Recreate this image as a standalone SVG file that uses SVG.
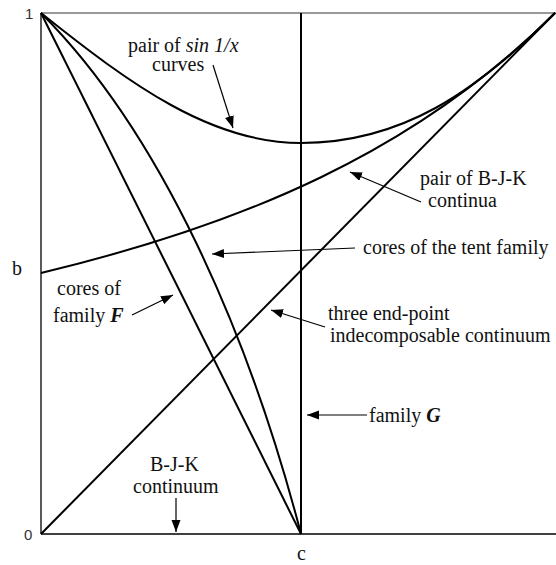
<svg xmlns="http://www.w3.org/2000/svg" width="556" height="565" viewBox="0 0 556 565">
<style>
.lbl{font-family:"Liberation Serif","Times New Roman",serif;font-size:20px;fill:#111}
.ax{font-family:"Liberation Sans",Arial,sans-serif;font-size:15px;fill:#333}
.crv{fill:none;stroke:#000;stroke-width:2}
.ar{fill:none;stroke:#000;stroke-width:1.2;marker-end:url(#ah)}
</style>
<defs>
<marker id="ah" markerUnits="userSpaceOnUse" markerWidth="13" markerHeight="10" refX="12" refY="4.5" orient="auto">
<path d="M0,0 L12,4.5 L0,9 z" fill="#000"/>
</marker>
</defs>
<rect width="556" height="565" fill="#fff"/>
<g id="frame">
<line x1="41" y1="13" x2="556" y2="13" stroke="#777" stroke-width="1.5"/>
<line x1="41" y1="13" x2="41" y2="534" stroke="#000" stroke-width="1.3"/>
<line x1="41" y1="534" x2="556" y2="534" stroke="#000" stroke-width="1.3"/>
<text class="ax" x="25" y="19">1</text>
<text class="ax" x="24" y="540">0</text>
<text class="lbl" x="12" y="275">b</text>
<text class="lbl" x="297" y="560">c</text>
</g>
<g id="curves">
<path id="sin-curves" class="crv" d="M41,13 C131,85 211,143 301,143 C401,143 475,93 555,13"/>
<path id="bjk-pair" class="crv" d="M41,273 C241,225 415,153 555,13"/>
<path id="tent-core" class="crv" d="M41,13 C161,133 249,334 301,534"/>
<line id="family-F" class="crv" x1="41" y1="13" x2="301" y2="534"/>
<line id="three-end" class="crv" x1="41" y1="534" x2="555" y2="13"/>
<line id="family-G-line" class="crv" x1="301" y1="13" x2="301" y2="534"/>
</g>
<g id="label-sin">
<text class="lbl" x="128" y="52">pair of <tspan font-style="italic">sin 1/x</tspan></text>
<text class="lbl" x="152" y="71">curves</text>
</g>
<g id="label-bjk-pair">
<text class="lbl" x="420" y="185">pair of B-J-K</text>
<text class="lbl" x="428" y="207">continua</text>
</g>
<g id="label-tent">
<text class="lbl" x="363" y="254">cores of the tent family</text>
</g>
<g id="label-F">
<text class="lbl" x="57" y="295">cores of</text>
<text class="lbl" x="53" y="322">family <tspan font-weight="bold" font-style="italic">F</tspan></text>
</g>
<g id="label-three">
<text class="lbl" x="328" y="320">three end-point</text>
<text class="lbl" x="330" y="342">indecomposable continuum</text>
</g>
<g id="label-G">
<text class="lbl" x="369" y="422">family <tspan font-weight="bold" font-style="italic">G</tspan></text>
</g>
<g id="label-bjk">
<text class="lbl" x="150" y="471">B-J-K</text>
<text class="lbl" x="133" y="493">continuum</text>
</g>
<g id="connectors">
<line class="ar" x1="213" y1="65" x2="233" y2="128"/>
<line class="ar" x1="421" y1="202" x2="350" y2="172"/>
<line class="ar" x1="355" y1="248" x2="212" y2="254"/>
<line class="ar" x1="132" y1="315" x2="173" y2="295"/>
<line class="ar" x1="325" y1="327" x2="271" y2="310"/>
<line class="ar" x1="367" y1="415" x2="307" y2="415"/>
<line class="ar" x1="176" y1="498" x2="176" y2="532"/>
</g>
</svg>
